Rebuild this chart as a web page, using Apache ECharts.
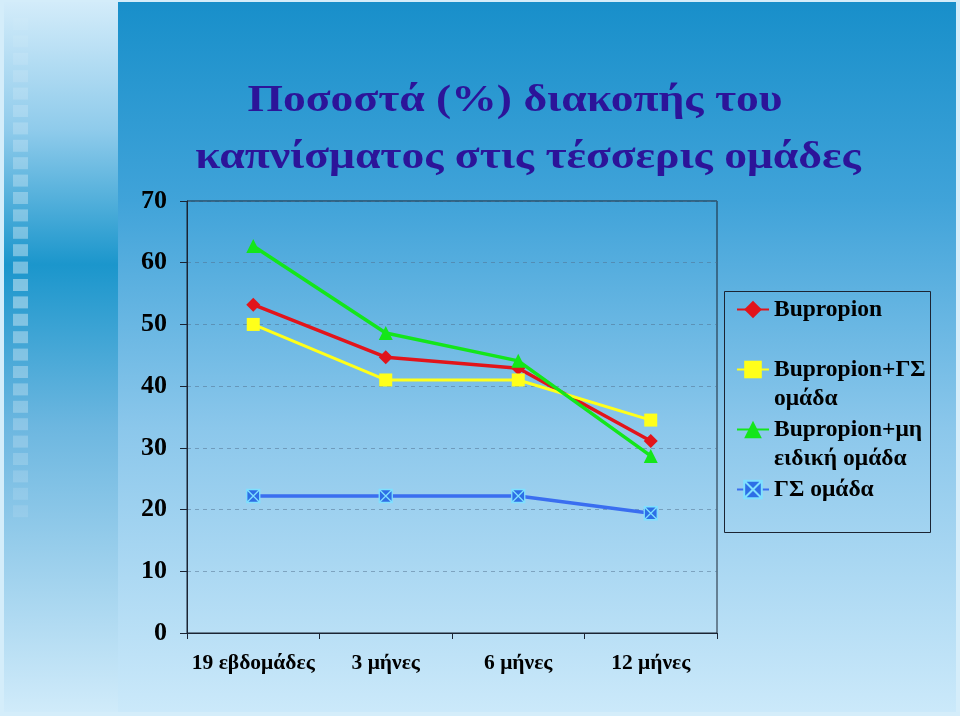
<!DOCTYPE html>
<html><head><meta charset="utf-8">
<script src="https://cdn.jsdelivr.net/npm/echarts@6/dist/echarts.min.js"></script>
<style>html,body{margin:0;padding:0;background:#d4edfa}#c{width:960px;height:716px}</style>
</head><body><div id="c"></div>
<script>
var categories = ['19 εβδομάδες', '3 μήνες', '6 μήνες', '12 μήνες'];
var seriesNames = ['Bupropion', 'Bupropion+ΓΣ ομάδα', 'Bupropion+μη ειδική ομάδα', 'ΓΣ ομάδα'];
var legendLines = [['Bupropion', ''], ['Bupropion+ΓΣ', 'ομάδα'], ['Bupropion+μη', 'ειδική ομάδα'], ['ΓΣ ομάδα', '']];
var titleLines = ['Ποσοστά (%) διακοπής του', 'καπνίσματος στις τέσσερις ομάδες'];
var bupropion = [53.2, 44.7, 42.9, 31.1];
var bupropionGS = [50.0, 41.0, 41.0, 34.5];
var bupropionNonSpecific = [62.7, 48.6, 44.1, 28.7];
var gsGroup = [22.2, 22.2, 22.2, 19.4];
var yTicks = [0, 10, 20, 30, 40, 50, 60, 70];

var serif = '"Liberation Serif", "DejaVu Serif", serif';
var chart = echarts.init(document.getElementById('c'), null, {renderer: 'canvas'});

var deco = [];
deco.push({type: 'rect', z: -10, shape: {x: 4, y: 2, width: 114, height: 710},
  style: {fill: new echarts.graphic.LinearGradient(0, 0, 0, 1, [
    {offset: 0, color: '#d3ecfa'}, {offset: 0.18, color: '#8fcbeb'}, {offset: 0.37, color: '#1b96cc'},
    {offset: 0.6, color: '#6db7e0'}, {offset: 1, color: '#d0ebfa'}])}});
deco.push({type: 'rect', z: -10, shape: {x: 118, y: 2, width: 838, height: 710},
  style: {fill: new echarts.graphic.LinearGradient(0, 0, 0, 1, [
    {offset: 0, color: '#188fca'}, {offset: 0.28, color: '#40a3d9'}, {offset: 0.6, color: '#8bc7eb'},
    {offset: 1, color: '#cbe9fa'}])}});
for (var i = 0; i < 29; i++) {
  var yy = 18 + i * 17.4;
  var a = Math.max(0, 0.42 - Math.abs(yy - 280) / 700);
  deco.push({type: 'rect', z: -9, shape: {x: 13, y: yy, width: 15, height: 12},
    style: {fill: 'rgba(255,255,255,' + a.toFixed(2) + ')'}});
}
deco.push({type: 'rect', z: 5, shape: {x: 724.5, y: 291.5, width: 206, height: 241},
  style: {fill: 'none', stroke: '#1b2433', lineWidth: 1}});
var titleCenters = [[515, 101], [528, 158]];
for (var t = 0; t < titleLines.length; t++) {
  deco.push({type: 'text', z: 6, x: titleCenters[t][0], y: titleCenters[t][1], scaleX: 1.2, scaleY: 1,
    style: {text: titleLines[t], x: 0, y: 0, align: 'center', verticalAlign: 'middle',
      font: 'bold 38px ' + serif, fill: '#2c1499'}});
}

function mk(name, data, color, symbol, size, lw, extra) {
  var s = {
    name: name, type: 'line', data: data, symbol: symbol, symbolSize: size,
    lineStyle: {color: color, width: lw}, itemStyle: {color: color},
    emphasis: {disabled: true}, animation: false, z: 3
  };
  if (extra) { for (var k in extra) s[k] = extra[k]; }
  return s;
}

var option = {
  backgroundColor: 'transparent',
  animation: false,
  legend: {
    orient: 'vertical', left: 736, top: 266, padding: 0, itemGap: -27,
    itemWidth: 32, itemHeight: 22,
    data: seriesNames,
    formatter: function (n) {
      var idx = seriesNames.indexOf(n);
      return '\n' + legendLines[idx][0] + '\n' + legendLines[idx][1];
    },
    textStyle: {fontFamily: serif, fontWeight: 'bold', fontSize: 23.5, lineHeight: 29, color: '#000'}
  },
  graphic: deco,
  grid: {left: 187, right: 243, top: 201, bottom: 83, show: true, borderColor: '#1b2433', borderWidth: 1, backgroundColor: 'transparent'},
  xAxis: {
    type: 'category', data: categories, boundaryGap: true,
    axisLine: {lineStyle: {color: '#1b2433', width: 1}},
    axisTick: {show: true, interval: 0, length: 6, lineStyle: {color: '#1b2433'}},
    axisLabel: {interval: 0, margin: 19, fontFamily: serif, fontWeight: 'bold', fontSize: 21.5, color: '#000'}
  },
  yAxis: {
    type: 'value', min: yTicks[0], max: yTicks[yTicks.length - 1], interval: 10,
    axisLine: {show: true, lineStyle: {color: '#1b2433', width: 1}},
    axisTick: {show: true, length: 7, lineStyle: {color: '#1b2433'}},
    axisLabel: {margin: 20, fontFamily: serif, fontWeight: 'bold', fontSize: 26, color: '#000'},
    splitLine: {show: true, lineStyle: {color: 'rgba(80,110,140,0.5)', type: [4, 4], width: 1}}
  },
  series: [
    mk(seriesNames[0], bupropion, '#e2141b', 'diamond', 14, 3.5),
    mk(seriesNames[1], bupropionGS, '#ffff1a', 'rect', 13, 3),
    mk(seriesNames[2], bupropionNonSpecific, '#14e61a', 'triangle', 14, 3.5),
    mk(seriesNames[3], gsGroup, '#3a6ef0', 'path://M0,0L10,0L10,10L0,10Z M0,0L10,10 M10,0L0,10', 13, 3.5,
      {itemStyle: {color: '#2d6fe6', borderColor: '#7fe0ff', borderWidth: 1.3}})
  ]
};
chart.setOption(option);
</script>
</body></html>
